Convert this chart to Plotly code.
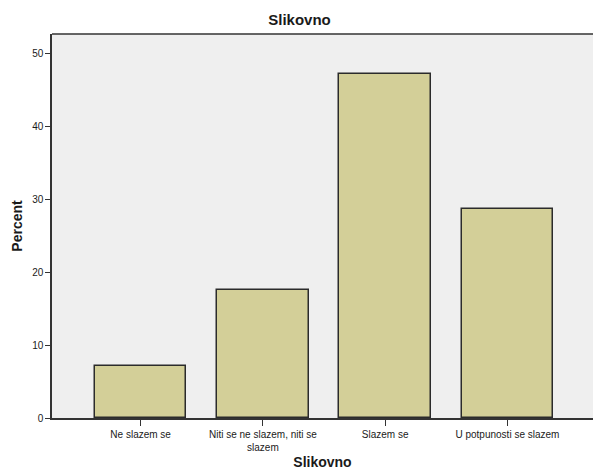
import plotly.graph_objects as go

categories = ["Ne slazem se", "Niti se ne slazem, niti se<br>slazem", "Slazem se", "U potpunosti se slazem"]
percent = [7.1, 17.5, 47.1, 28.7]
y_ticks = [0, 10, 20, 30, 40, 50]

fig = go.Figure()
fig.add_trace(go.Bar(
    x=list(range(len(categories))),
    y=percent,
    width=0.75,
    marker=dict(color="#d3cf98", line=dict(color="#2b2b2b", width=1.5)),
))

font_family = "Liberation Sans, Arial, sans-serif"

fig.update_layout(
    width=593, height=470,
    margin=dict(l=52, r=0, t=34, b=52, autoexpand=False),
    paper_bgcolor="white",
    plot_bgcolor="#efefef",
    showlegend=False,
    bargap=0,
    title=dict(text="<b>Slikovno</b>", x=0.505, xanchor="center", y=0.957, yanchor="middle",
               font=dict(family=font_family, size=15, color="#1a1a1a")),
    font=dict(family=font_family, color="#1a1a1a"),
    shapes=[dict(type="line", xref="paper", yref="paper", x0=0, x1=1, y0=1, y1=1,
                 line=dict(color="#333333", width=1.5))],
)
fig.update_xaxes(
    automargin=False,
    range=[-0.725, 3.70],
    tickmode="array",
    tickvals=list(range(len(categories))),
    ticktext=categories,
    ticks="outside", ticklen=6, tickwidth=1.2, tickcolor="#333333",
    tickfont=dict(size=10, family=font_family, color="#1a1a1a"),
    showline=True, linecolor="#333333", linewidth=1.5, mirror=False,
    showgrid=False, zeroline=False,
    title=dict(text="<b>Slikovno</b>", font=dict(size=14, family=font_family, color="#1a1a1a"), standoff=8),
)
fig.update_yaxes(
    automargin=False,
    range=[0, 52.65],
    tickmode="array",
    tickvals=y_ticks,
    ticktext=[str(v) for v in y_ticks],
    ticks="outside", ticklen=5, tickwidth=1.2, tickcolor="#333333",
    tickfont=dict(size=10, family=font_family, color="#1a1a1a"),
    showline=True, linecolor="#333333", linewidth=1.5, mirror=False,
    showgrid=False, zeroline=False,
    title=dict(text="<b>Percent</b>", font=dict(size=14, family=font_family, color="#1a1a1a"), standoff=6),
)

post = ("document.body.style.margin='0';document.body.style.padding='0';"
        "document.body.style.overflow='hidden';"
        "document.documentElement.style.overflow='hidden';")
fig.write_html("out.html", post_script=post, config={"responsive": False, "displayModeBar": False})
